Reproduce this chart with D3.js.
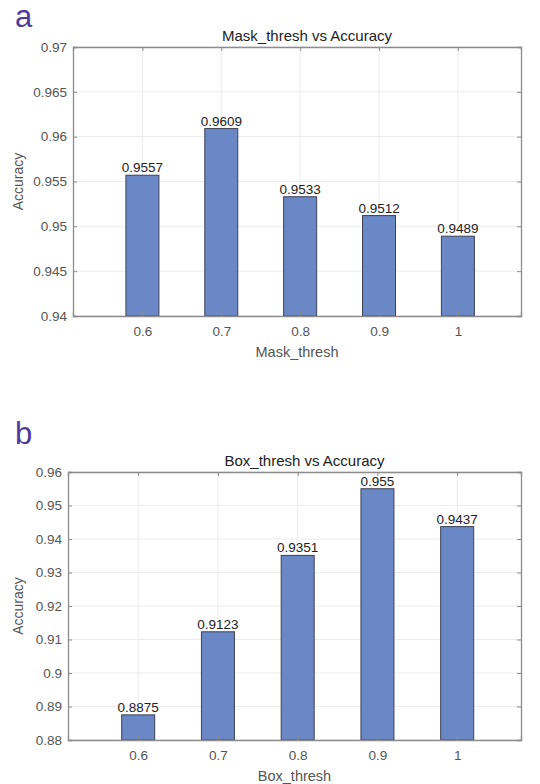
<!DOCTYPE html>
<html lang="en">
  <head>
    <meta charset="UTF-8" />
    <title>Threshold vs Accuracy</title>
    <script src="https://d3js.org/d3.v7.min.js"></script>
    <style>
      body { margin: 0; background: #fff; }
      text { font-family: "Liberation Sans", Arial, sans-serif; }
    </style>
  </head>
  <body>
    <svg id="chart" width="540" height="784"></svg>

    <script>
      // thresholds (same for both panels)
      const thresholds = [0.6, 0.7, 0.8, 0.9, 1];

      // panel a
      const maskAccuracy = [0.9557, 0.9609, 0.9533, 0.9512, 0.9489];
      const maskTicks = [0.94, 0.945, 0.95, 0.955, 0.96, 0.965, 0.97];

      // panel b
      const boxAccuracy = [0.8875, 0.9123, 0.9351, 0.955, 0.9437];
      const boxTicks = [0.88, 0.89, 0.9, 0.91, 0.92, 0.93, 0.94, 0.95, 0.96];

      const svg = d3.select("#chart");

      const panels = [
        {
          letter: "a", title: "Mask_thresh vs Accuracy", xLabel: "Mask_thresh",
          values: maskAccuracy, ticks: maskTicks, yDomain: [0.94, 0.97],
          left: 73, right: 521, top: 47, bottom: 316, letterY: 27,
        },
        {
          letter: "b", title: "Box_thresh vs Accuracy", xLabel: "Box_thresh",
          values: boxAccuracy, ticks: boxTicks, yDomain: [0.88, 0.96],
          left: 68, right: 521, top: 472, bottom: 740, letterY: 444,
        },
      ];

      panels.forEach((p) => {
        const g = svg.append("g");

        const x = d3.scaleLinear().domain([0.512, 1.08]).range([p.left, p.right]);
        const y = d3.scaleLinear().domain(p.yDomain).range([p.bottom, p.top]);

        // panel letter
        g.append("text")
          .attr("x", 15)
          .attr("y", p.letterY)
          .attr("font-size", 31)
          .attr("fill", "#4f3a9c")
          .text(p.letter);

        // grid
        g.append("g")
          .selectAll("line.hy")
          .data(p.ticks)
          .join("line")
          .attr("x1", p.left)
          .attr("x2", p.right)
          .attr("y1", (d) => y(d))
          .attr("y2", (d) => y(d))
          .attr("stroke", "#ececec");

        g.append("g")
          .selectAll("line.vx")
          .data(thresholds)
          .join("line")
          .attr("x1", (d) => x(d))
          .attr("x2", (d) => x(d))
          .attr("y1", p.top)
          .attr("y2", p.bottom)
          .attr("stroke", "#ececec");

        // bars
        const bw = 33;
        g.append("g")
          .selectAll("rect")
          .data(p.values)
          .join("rect")
          .attr("x", (d, i) => x(thresholds[i]) - bw / 2)
          .attr("y", (d) => y(d))
          .attr("width", bw)
          .attr("height", (d) => p.bottom - y(d))
          .attr("fill", "#6a88c6")
          .attr("stroke", "#3c4055")
          .attr("stroke-width", 1);

        // value labels
        g.append("g")
          .selectAll("text")
          .data(p.values)
          .join("text")
          .attr("x", (d, i) => x(thresholds[i]))
          .attr("y", (d) => y(d) - 3)
          .attr("text-anchor", "middle")
          .attr("font-size", 13.5)
          .attr("fill", "#222")
          .text((d) => d);

        // axes
        const axisColor = "#8c8c8c";
        const yAxis = g.append("g")
          .attr("transform", `translate(${p.left},0)`)
          .call(d3.axisLeft(y).tickValues(p.ticks).tickFormat((d) => d).tickSize(-4).tickPadding(6));
        const xAxis = g.append("g")
          .attr("transform", `translate(0,${p.bottom})`)
          .call(d3.axisBottom(x).tickValues(thresholds).tickFormat((d) => d).tickSize(-4).tickPadding(10));
        const yRight = g.append("g")
          .attr("transform", `translate(${p.right},0)`)
          .call(d3.axisRight(y).tickValues(p.ticks).tickFormat("").tickSize(-4));
        const xTop = g.append("g")
          .attr("transform", `translate(0,${p.top})`)
          .call(d3.axisTop(x).tickValues(thresholds).tickFormat("").tickSize(-4));

        [yAxis, xAxis, yRight, xTop].forEach((a) => {
          a.select(".domain").attr("stroke", axisColor).attr("stroke-width", 1.3);
          a.selectAll(".tick line").attr("stroke", axisColor);
          a.selectAll(".tick text")
            .attr("fill", "#555")
            .attr("font-size", 13.5)
            .attr("font-family", "'Liberation Sans', Arial, sans-serif");
        });

        // title
        g.append("text")
          .attr("x", (p.left + p.right) / 2 + 10)
          .attr("y", p.top - 6)
          .attr("text-anchor", "middle")
          .attr("font-size", 15)
          .attr("fill", "#222")
          .text(p.title);

        // axis labels
        g.append("text")
          .attr("x", (p.left + p.right) / 2)
          .attr("y", p.bottom + 41)
          .attr("text-anchor", "middle")
          .attr("font-size", 14.5)
          .attr("fill", "#555")
          .text(p.xLabel);

        g.append("text")
          .attr("transform", `translate(23,${(p.top + p.bottom) / 2}) rotate(-90)`)
          .attr("text-anchor", "middle")
          .attr("font-size", 14)
          .attr("fill", "#555")
          .text("Accuracy");
      });
    </script>
  </body>
</html>
